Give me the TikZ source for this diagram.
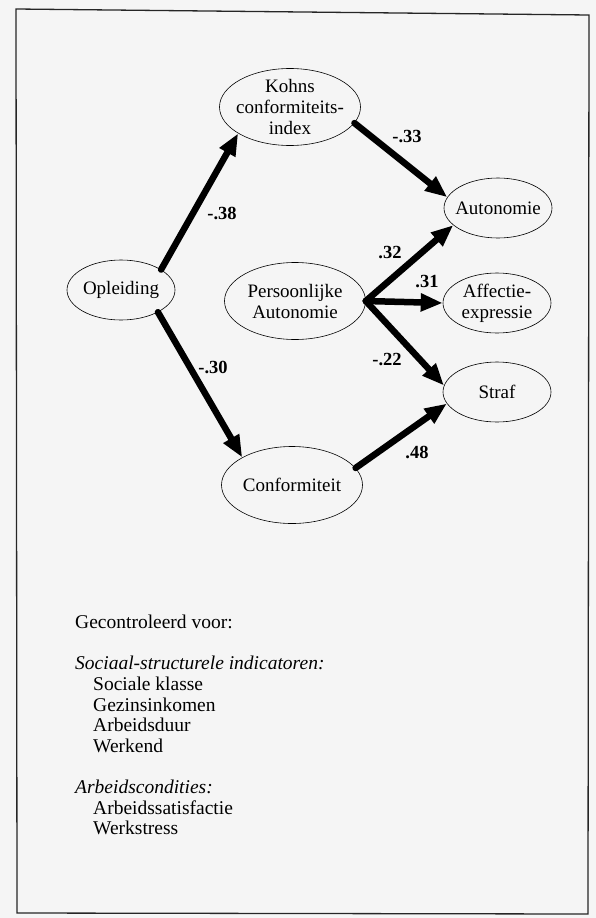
\documentclass[tikz,border=0pt]{standalone}
\usepackage{fontspec}
\setmainfont{Liberation Serif}
\usetikzlibrary{shapes.geometric,arrows.meta}
\definecolor{scanGray}{gray}{0.96}
\definecolor{frameInk}{gray}{0.15}

\tikzset{
  var/.style={draw, ellipse, line width=0.6pt, align=center, inner sep=-8pt,
    font=\fontsize{19}{21}\selectfont},
  bigvar/.style={var, minimum width=141pt, minimum height=77pt},
  smallvar/.style={var, minimum width=108pt, minimum height=60pt},
  effect/.style={line width=6.5pt, line cap=round, -{Triangle[length=22pt,width=17pt]}},
  coef/.style={font=\bfseries\fontsize{18.5}{20}\selectfont},
}

\begin{document}
\begin{tikzpicture}[x=1pt, y=-1pt]
    % scanned page and frame
    \fill[scanGray] (0,0) rectangle (596,918);
    \useasboundingbox (0,0) rectangle (596,918);
    \draw[frameInk, line width=1.3pt] (16,9) -- (589,15) -- (588,914) -- (17,913) -- cycle;

    % Variables
    \node[smallvar] (opl) at (121,290) {Opleiding};
    \node[bigvar] (kohn) at (290,107) {Kohns\\conformiteits-\\index};
    \node[bigvar] (pers) at (295,301) {Persoonlijke\\Autonomie};
    \node[bigvar] (conf) at (292,485) {Conformiteit};
    \node[smallvar] (auto) at (498,208) {Autonomie};
    \node[smallvar] (affe) at (497,303) {Affectie-\\expressie};
    \node[smallvar] (straf) at (497,392) {Straf};

    % Paths
    \draw[effect] (opl.27) -- (kohn.207);
    \draw[effect] (opl.329) -- (conf.151);
    \draw[effect] (kohn.346) -- (auto.168);
    \draw[effect] (pers.east) -- (auto.201);
    \draw[effect] (pers.east) -- (affe.west);
    \draw[effect] (pers.east) -- (straf.173);
    \draw[effect] (conf.15) -- (straf.193);

    % Coefficients
    \node[coef] (c38) at (222,213) {-.38};
    \node[coef] (c33) at (407,137) {-.33};
    \node[coef] (c30) at (213,367) {-.30};
    \node[coef] (c32) at (390,253) {.32};
    \node[coef] (c31) at (427,282) {.31};
    \node[coef] (c22) at (387,360) {-.22};
    \node[coef] (c48) at (417,452) {.48};

    % Controls
    \node[anchor=north west, align=left, inner sep=0pt, font=\fontsize{19.5}{20.6}\selectfont] (ctrl) at (75,615) {%
      Gecontroleerd voor:\\[20.6pt]
      \textit{Sociaal-structurele indicatoren:}\\
      \hspace*{18pt}Sociale klasse\\
      \hspace*{18pt}Gezinsinkomen\\
      \hspace*{18pt}Arbeidsduur\\
      \hspace*{18pt}Werkend\\[20.6pt]
      \textit{Arbeidscondities:}\\
      \hspace*{18pt}Arbeidssatisfactie\\
      \hspace*{18pt}Werkstress};
\end{tikzpicture}
\end{document}
